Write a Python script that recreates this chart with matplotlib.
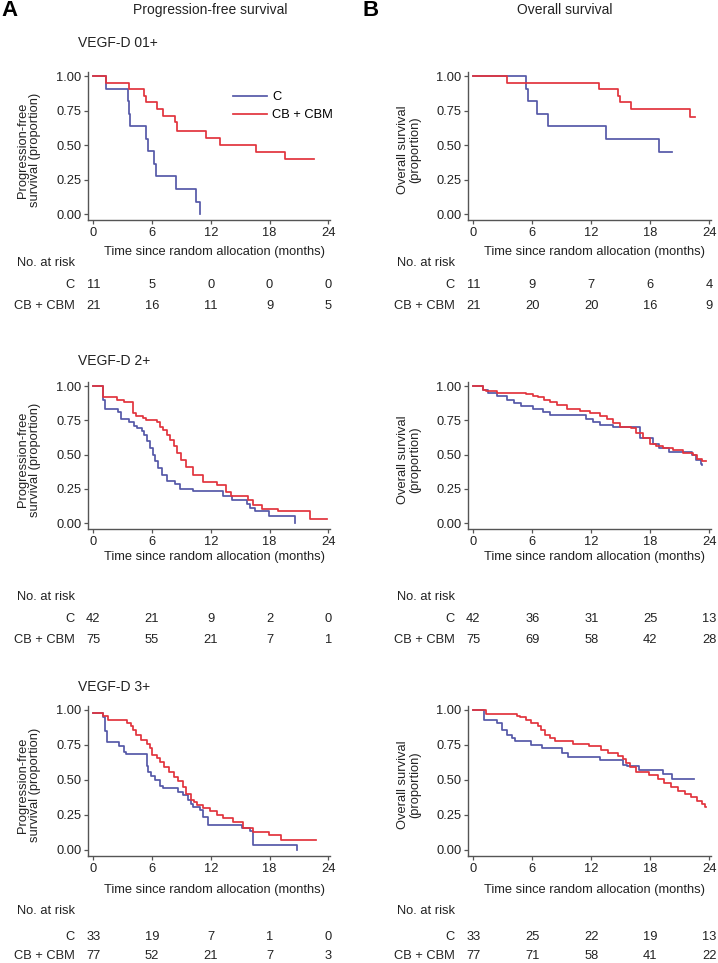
import matplotlib
matplotlib.use("Agg")
import matplotlib.pyplot as plt
from matplotlib.transforms import blended_transform_factory

plt.rcParams['font.family'] = ['Liberation Sans', 'DejaVu Sans']

# ---------------- data ----------------
months_ticks = [0, 6, 12, 18, 24]
y_ticks = [0.0, 0.25, 0.5, 0.75, 1.0]
groups = ["C", "CB + CBM"]
strata = ["VEGF-D 01+", "VEGF-D 2+", "VEGF-D 3+"]

# PFS VEGF-D 01+
pfs01_c_t = [0, 1.3, 3.5, 3.6, 3.8, 5.4, 5.6, 6.2, 6.4, 8.4, 10.5, 10.9]
pfs01_c_s = [1.0, 0.909, 0.818, 0.727, 0.636, 0.545, 0.455, 0.364, 0.273, 0.182, 0.091, 0.0]
pfs01_cb_t = [0, 1.3, 3.6, 5.2, 5.4, 6.5, 7.1, 8.3, 8.6, 11.5, 12.9, 16.6, 19.6, 22.5]
pfs01_cb_s = [1.0, 0.952, 0.905, 0.857, 0.81, 0.762, 0.714, 0.667, 0.60, 0.55, 0.50, 0.45, 0.40, 0.40]
# OS VEGF-D 01+
os01_c_t = [0, 5.4, 5.6, 6.5, 7.6, 13.5, 18.9, 20.2]
os01_c_s = [1.0, 0.909, 0.818, 0.727, 0.636, 0.545, 0.45, 0.45]
os01_cb_t = [0, 3.4, 12.8, 14.7, 14.9, 16.0, 22.0, 22.6]
os01_cb_s = [1.0, 0.952, 0.905, 0.857, 0.81, 0.76, 0.70, 0.70]

# PFS VEGF-D 2+
pfs2_c_t = [0, 1.0, 1.2, 2.5, 2.8, 3.6, 4.2, 4.5, 5.0, 5.2, 5.5, 5.8, 6.1, 6.3, 6.6, 7.0,
            7.5, 8.3, 8.9, 10.2, 13.3, 14.2, 15.7, 16.0, 16.5, 17.9, 20.6]
pfs2_c_s = [1.0, 0.90, 0.83, 0.81, 0.76, 0.74, 0.71, 0.69, 0.67, 0.64, 0.60, 0.55, 0.50, 0.45, 0.40, 0.35,
            0.31, 0.285, 0.25, 0.23, 0.197, 0.168, 0.14, 0.107, 0.09, 0.053, 0.0]
pfs2_cb_t = [0, 1.0, 2.4, 3.1, 4.1, 4.4, 5.1, 5.4, 6.5, 6.8, 7.15, 7.5, 7.8, 8.2, 8.5, 9.0, 9.5,
             10.2, 11.2, 12.6, 13.6, 14.1, 15.8, 16.3, 17.2, 18.9, 22.1, 23.9]
pfs2_cb_s = [1.0, 0.92, 0.90, 0.88, 0.80, 0.78, 0.764, 0.75, 0.74, 0.70, 0.68, 0.64, 0.606, 0.56, 0.51, 0.46, 0.41,
             0.35, 0.30, 0.277, 0.228, 0.20, 0.168, 0.131, 0.10, 0.09, 0.027, 0.027]
# OS VEGF-D 2+
os2_c_t = [0, 1.0, 1.5, 2.4, 3.4, 4.1, 4.9, 6.1, 7.1, 7.8, 11.5, 12.2, 12.9, 14.2, 17.0, 18.3,
           18.9, 19.9, 22.2, 22.7, 23.2, 23.3]
os2_c_s = [1.0, 0.97, 0.95, 0.93, 0.90, 0.875, 0.855, 0.835, 0.81, 0.79, 0.76, 0.74, 0.715, 0.70, 0.62, 0.58,
           0.55, 0.52, 0.50, 0.46, 0.43, 0.42]
os2_cb_t = [0, 1.0, 1.3, 2.4, 5.4, 6.1, 6.6, 7.2, 7.8, 8.5, 9.5, 10.9, 11.9, 12.9, 13.6, 14.2, 14.9,
            16.0, 16.6, 17.3, 18.0, 18.6, 19.3, 20.3, 21.3, 22.3, 22.8, 23.3, 23.7]
os2_cb_s = [1.0, 0.97, 0.96, 0.95, 0.94, 0.93, 0.92, 0.90, 0.88, 0.86, 0.83, 0.82, 0.80, 0.78, 0.76, 0.73, 0.70,
            0.69, 0.66, 0.62, 0.58, 0.56, 0.545, 0.53, 0.51, 0.50, 0.47, 0.45, 0.45]

# PFS VEGF-D 3+
pfs3_c_t = [0, 1.0, 1.2, 1.4, 2.6, 3.1, 3.3, 5.45, 5.6, 5.9, 6.3, 6.8, 7.1, 8.7, 9.2, 9.7, 10.0,
            10.2, 10.9, 11.2, 11.7, 15.2, 16.0, 16.3, 20.8]
pfs3_c_s = [0.98, 0.95, 0.85, 0.77, 0.74, 0.70, 0.685, 0.60, 0.56, 0.53, 0.50, 0.46, 0.44, 0.415, 0.39, 0.36, 0.33,
            0.31, 0.285, 0.236, 0.18, 0.155, 0.138, 0.036, 0.0]
pfs3_cb_t = [0, 1.0, 1.5, 3.4, 3.9, 4.1, 4.4, 4.9, 5.45, 5.8, 6.0, 6.5, 6.8, 7.2, 7.7, 8.2, 8.7, 9.2,
             9.5, 10.0, 10.3, 10.6, 11.2, 11.9, 12.6, 13.3, 14.3, 15.3, 16.3, 17.9, 19.2, 22.8]
pfs3_cb_s = [0.98, 0.96, 0.93, 0.905, 0.885, 0.857, 0.82, 0.786, 0.76, 0.726, 0.68, 0.66, 0.63, 0.595, 0.56, 0.52,
             0.49, 0.45, 0.40, 0.36, 0.34, 0.32, 0.30, 0.28, 0.25, 0.23, 0.20, 0.16, 0.13, 0.107, 0.07, 0.07]
# OS VEGF-D 3+
os3_c_t = [0, 1.1, 2.4, 2.9, 3.4, 3.9, 4.2, 5.9, 7.0, 9.0, 9.6, 12.9, 15.2, 15.6, 16.9, 19.3, 20.2, 22.5]
os3_c_s = [1.0, 0.93, 0.905, 0.857, 0.82, 0.80, 0.78, 0.75, 0.725, 0.69, 0.667, 0.64, 0.61, 0.60, 0.57, 0.545,
           0.51, 0.51]
os3_cb_t = [0, 1.3, 4.4, 4.7, 5.4, 5.9, 6.6, 6.9, 7.3, 7.8, 8.3, 10.1, 11.8, 13.0, 13.7, 14.7, 15.2,
            15.5, 15.9, 16.6, 17.9, 18.8, 19.4, 20.1, 20.8, 21.5, 22.1, 22.8, 23.3, 23.6, 23.7]
os3_cb_s = [1.0, 0.97, 0.96, 0.95, 0.93, 0.905, 0.886, 0.857, 0.82, 0.80, 0.78, 0.76, 0.74, 0.714, 0.69, 0.67,
            0.648, 0.62, 0.595, 0.56, 0.536, 0.51, 0.48, 0.45, 0.42, 0.40, 0.375, 0.35, 0.33, 0.31, 0.31]

# numbers at risk
risk_pfs01_c = [11, 5, 0, 0, 0]
risk_pfs01_cb = [21, 16, 11, 9, 5]
risk_os01_c = [11, 9, 7, 6, 4]
risk_os01_cb = [21, 20, 20, 16, 9]
risk_pfs2_c = [42, 21, 9, 2, 0]
risk_pfs2_cb = [75, 55, 21, 7, 1]
risk_os2_c = [42, 36, 31, 25, 13]
risk_os2_cb = [75, 69, 58, 42, 28]
risk_pfs3_c = [33, 19, 7, 1, 0]
risk_pfs3_cb = [77, 52, 21, 7, 3]
risk_os3_c = [33, 25, 22, 19, 13]
risk_os3_cb = [77, 71, 58, 41, 22]

# ---------------- layout ----------------
W, H = 718, 963
fig = plt.figure(figsize=(W / 100, H / 100), dpi=100)

def fx(x):
    return x / W

def fy(y):
    return 1 - y / H

def add_ax(l, t, r, b):
    return fig.add_axes([fx(l), fy(b), (r - l) / W, (b - t) / H])

BLUE = "#5558a8"
RED = "#e2333d"
AXC = "#555555"
TXT = "#222222"
FS = 9.3

rows = [
    dict(top=71.9, bot=220.0, xlab=252, nar=263, c=285, cb=306, strat=43),
    dict(top=381.9, bot=528.9, xlab=557, nar=597, c=619, cb=640, strat=361),
    dict(top=705.8, bot=856.0, xlab=890, nar=911, c=937, cb=956, strat=687),
]
cols = [dict(l=88.4, r=330.2, ylab="Progression-free\nsurvival (proportion)", ylx=29, labx=75),
        dict(l=468.4, r=711.2, ylab="Overall survival\n(proportion)", ylx=409, labx=455)]

curves = [
    [((pfs01_c_t, pfs01_c_s), (pfs01_cb_t, pfs01_cb_s), risk_pfs01_c, risk_pfs01_cb),
     ((os01_c_t, os01_c_s), (os01_cb_t, os01_cb_s), risk_os01_c, risk_os01_cb)],
    [((pfs2_c_t, pfs2_c_s), (pfs2_cb_t, pfs2_cb_s), risk_pfs2_c, risk_pfs2_cb),
     ((os2_c_t, os2_c_s), (os2_cb_t, os2_cb_s), risk_os2_c, risk_os2_cb)],
    [((pfs3_c_t, pfs3_c_s), (pfs3_cb_t, pfs3_cb_s), risk_pfs3_c, risk_pfs3_cb),
     ((os3_c_t, os3_c_s), (os3_cb_t, os3_cb_s), risk_os3_c, risk_os3_cb)],
]

for ri, row in enumerate(rows):
    fig.text(fx(78), fy(row['strat']), strata[ri], fontsize=10, color=TXT, ha='left', va='center')
    for ci, col in enumerate(cols):
        ax = add_ax(col['l'], row['top'], col['r'], row['bot'])
        (ct, cs), (bt, bs), rc, rb = curves[ri][ci]
        ax.step(ct, cs, where='post', color=BLUE, lw=1.25, label=groups[0])
        ax.step(bt, bs, where='post', color=RED, lw=1.25, label=groups[1])
        ax.set_xlim(-0.5, 24.2)
        ax.set_ylim(-0.043, 1.03)
        ax.set_xticks(months_ticks)
        ax.set_yticks(y_ticks)
        ax.set_yticklabels([f"{v:.2f}" for v in y_ticks])
        for s in ['top', 'right']:
            ax.spines[s].set_visible(False)
        for s in ['left', 'bottom']:
            ax.spines[s].set_color(AXC)
            ax.spines[s].set_linewidth(1.0)
        ax.tick_params(direction='out', length=3, width=0.9, color=AXC, labelsize=FS,
                       labelcolor=TXT, pad=2)
        # x label
        xc = (col['l'] + col['r']) / 2 + 5
        fig.text(fx(xc), fy(row['xlab']), "Time since random allocation (months)",
                 fontsize=FS, color=TXT, ha='center', va='center')
        # y label
        fig.text(fx(col['ylx']), fy((row['top'] + row['bot']) / 2 + 4), col['ylab'],
                 fontsize=FS, color=TXT, rotation=90, ha='center', va='center',
                 multialignment='center', linespacing=1.05)
        # risk table
        fig.text(fx(col['labx']), fy(row['nar']), "No. at risk", fontsize=FS, color=TXT,
                 ha='right', va='center')
        fig.text(fx(col['labx']), fy(row['c']), groups[0], fontsize=FS, color=TXT,
                 ha='right', va='center')
        fig.text(fx(col['labx']), fy(row['cb']), groups[1], fontsize=FS, color=TXT,
                 ha='right', va='center')
        tr = blended_transform_factory(ax.transData, fig.transFigure)
        for m, n1, n2 in zip(months_ticks, rc, rb):
            ax.text(m, fy(row['c']), str(n1), transform=tr, fontsize=FS, color=TXT,
                    ha='center', va='center', clip_on=False)
            ax.text(m, fy(row['cb']), str(n2), transform=tr, fontsize=FS, color=TXT,
                    ha='center', va='center', clip_on=False)
        if ri == 0 and ci == 0:
            ax.legend(loc='upper left', bbox_to_anchor=(0.6, 0.87), frameon=False,
                      fontsize=FS, handlelength=2.6, handletextpad=0.4, labelspacing=0.45,
                      borderpad=0, borderaxespad=0)

fig.text(fx(1), fy(11), "A", fontsize=16, fontweight='bold', color='black', ha='left', va='center')
fig.text(fx(362), fy(11), "B", fontsize=16, fontweight='bold', color='black', ha='left', va='center')
fig.text(fx(210), fy(10), "Progression-free survival", fontsize=10, color=TXT, ha='center', va='center')
fig.text(fx(565), fy(10), "Overall survival", fontsize=10, color=TXT, ha='center', va='center')

fig.savefig("out.png", dpi=100, facecolor='white')
